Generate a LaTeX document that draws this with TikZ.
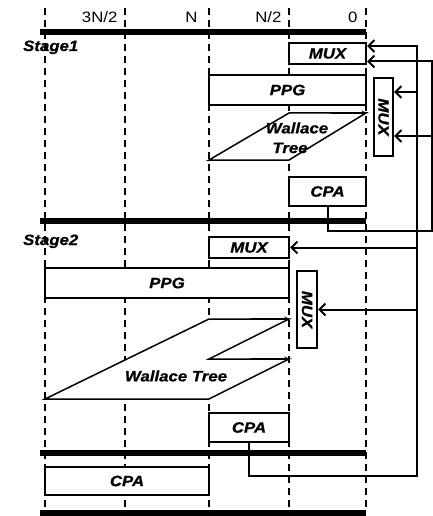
\documentclass[tikz,border=0pt]{standalone}
\usepackage{fontspec}
\setmainfont{Liberation Sans}[FakeStretch=1.12, BoldItalicFeatures={FakeBold=0.8}]
\usetikzlibrary{arrows.meta}
\newcommand\lbl{\fontsize{15}{17}\selectfont\bfseries\itshape}
\newcommand\ticklbl{\fontsize{15}{17}\selectfont}
\begin{document}
\begin{tikzpicture}[x=1pt,y=-1pt,
  box/.style={draw, line width=2pt, fill=white, inner sep=0pt, font=\lbl},
  guide/.style={line width=1.2pt, dash pattern=on 7pt off 5pt},
  bar/.style={line width=6.5pt},
  wal/.style={draw, line width=1.5pt, fill=white, line join=miter},
  walarrow/.style={line width=1.5pt, -{Stealth[length=5pt,width=5pt]}},
  conn/.style={line width=2pt, -{Straight Barb[length=6pt,width=12pt]}},
  line/.style={line width=2pt}]
\useasboundingbox (0,0) rectangle (433,516);
% guides
\foreach \x in {45,125,209,289,366} \draw[guide] (\x,8) -- (\x,512);
% tick labels
\node[font=\ticklbl, anchor=base east] (t32) at (121,22.5) {3N/2};
\node[font=\ticklbl, anchor=base east] (t1) at (201,22.5) {N};
\node[font=\ticklbl, anchor=base east] (t12) at (285,22.5) {N/2};
\node[font=\ticklbl, anchor=base east] (t0) at (361,22.5) {0};
% bars
\draw[bar] (40,32) -- (366,32);
\draw[bar] (40,221) -- (366,221);
\draw[bar] (40,453) -- (366,453);
\draw[bar] (40,513) -- (366,513);
% stage labels
\node[font=\lbl, anchor=base west, inner sep=0pt] (s1) at (23,51) {Stage1};
\node[font=\lbl, anchor=base west, inner sep=0pt] (s2) at (23,245) {Stage2};
% stage 1
\node[box, minimum width=77pt, minimum height=21pt] (mux1) at (327.5,53.5) {MUX};
\node[box, minimum width=157pt, minimum height=30pt] (ppg1) at (287.5,90) {PPG};
\node[box, minimum width=19pt, minimum height=78pt] (vmux1) at (383.5,117) {\rotatebox{-90}{MUX}};
\draw[wal] (209,160) -- (289,113) -- (366,113) -- (289,160) -- cycle;
\draw[walarrow] (330,113) -- (366.5,113);
\node[font=\lbl, inner sep=0pt] (w1a) at (297,128) {Wallace};
\node[font=\lbl, inner sep=0pt] (w1b) at (290,148) {Tree};
\node[box, minimum width=77pt, minimum height=29pt] (cpa1) at (327.5,191.5) {CPA};
% stage 2
\node[box, minimum width=80pt, minimum height=21pt] (mux2) at (249,247.5) {MUX};
\node[box, minimum width=244pt, minimum height=30pt] (ppg2) at (167,283) {PPG};
\node[box, minimum width=20pt, minimum height=77pt] (vmux2) at (307,309.5) {\rotatebox{-90}{MUX}};
\draw[wal] (45,399) -- (209,319) -- (289,319) -- (209,359) -- (289,359) -- (209,399) -- cycle;
\draw[walarrow] (250,319) -- (289.5,319);
\draw[walarrow] (250,359) -- (289.5,359);
\node[font=\lbl, inner sep=0pt] (w2) at (176,376) {Wallace Tree};
\node[box, minimum width=80pt, minimum height=29pt] (cpa2) at (249,427.5) {CPA};
\node[box, minimum width=164pt, minimum height=28pt] (cpa3) at (127,481) {CPA};
% feedback loop A (stage 1 CPA)
\coordinate (a1) at (432,231);
\coordinate (ma) at ([yshift=-8pt]mux1.east);
\draw[conn] (cpa1.south) |- (a1) |- (ma);
\draw[conn] (a1 |- 0,136) -- (vmux1.east |- 0,136);
% feedback loop B (stage 2 CPA)
\coordinate (b1) at (417,476);
\coordinate (mb) at ([yshift=7.5pt]mux1.east);
\draw[conn] (cpa2.south) |- (b1) |- (mb);
\draw[conn] (b1 |- 0,92) -- (vmux1.east |- 0,92);
\draw[conn] (b1 |- mux2.east) -- (mux2.east);
\draw[conn] (b1 |- vmux2.east) -- (vmux2.east);
\end{tikzpicture}
\end{document}
